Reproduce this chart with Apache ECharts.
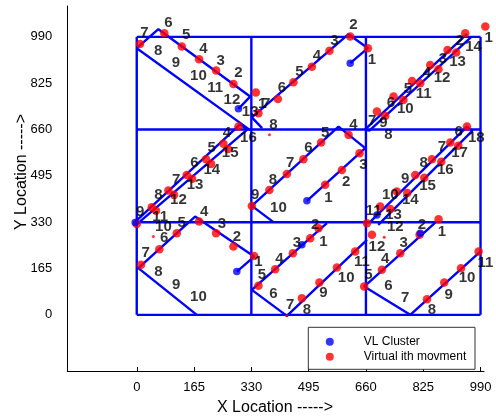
<!DOCTYPE html>
<html><head><meta charset="utf-8">
<script src="https://cdn.jsdelivr.net/npm/echarts@6/dist/echarts.min.js"></script>
<style>html,body{margin:0;padding:0;background:#fff}#c{width:496px;height:419px}</style>
</head><body><div id="c"></div>
<script>
// ---- axis ticks ----
const tickValues = [0, 165, 330, 495, 660, 825, 990];
const cellEdges = [0, 330, 660, 990];

// ---- cell: top-left ----
const tlPath = [[292.8,733.6],[326.5,777.4],[62.3,1017.4],[0,949.7],[326.5,658]];
const tlDots = [[343,791.6],[278.4,822.6],[228.5,870],[179.5,910.5],[129.7,955.4],[79.5,1003],[9.5,965]];
const tlLabels = [[361,751,'1'],[293,863,'2'],[242,904.5,'3'],[192,946,'4'],[142,997,'5'],[91,1039,'6'],[21.9,1003,'7'],[62,941,'8'],[113,898,'9'],[177.5,851,'10'],[225.7,807,'11'],[274,765.6,'12'],[326.5,724,'13']];
const tlCluster = [292.8,733.6];

// ---- cell: top-centre ----
const tcPath = [[614.7,896.3],[665.7,949.7],[609.9,999.6],[331.4,703.3],[361.1,664.8]];
const tcDots = [[665.7,949.7],[614.7,991],[555,941],[504.3,884],[451.3,828.6],[406.4,769],[350.5,718]];
const tcLabels = [[677.3,908,'1'],[624.3,1032.7,'2'],[569.5,976.8,'3'],[518.8,922.3,'4'],[468.6,866.4,'5'],[417.9,807.3,'6'],[372.6,753,'7'],[393.7,676.6,'8']];
const tcCluster = [614.7,896.3];

// ---- cell: top-right ----
const trPath = [[951,1000.6],[657,660],[670,656],[962,988]];
const trDots = [[1003.8,1026.6],[946,1003],[895,943.7],[845,890],[792.6,833],[739.5,777.4],[691.7,724],[920,934],[869,875],[816.5,825],[768,765.6],[715.6,708.6]];
const trLabels = [[1013.3,985.3,'1'],[929.7,976.8,'2'],[882,910.5,'3'],[835.8,862.8,'4'],[781,803.7,'5'],[732,756,'6'],[678,690.8,'7'],[725,641,'8'],[710.7,682.6,'9'],[773.2,732.5,'10'],[826,787,'11'],[879,843,'12'],[924,902,'13'],[970,955.4,'14']];

// ---- cell: middle-left ----
const mlPath = [[-4.6,331],[297.7,678],[318,660],[3,326]];
const mlDots = [[292.8,670.5],[249.6,609],[199.7,554.4],[144,498.5],[91,442.6],[43.2,383.5],[0,324],[263,591],[214,537.7],[159.4,484.3],[107.5,427.3],[55.6,370.4]];
const mlLabels = [[259.4,647,'4'],[216,593.6,'5'],[166,540,'6'],[113.3,480.7,'7'],[62.3,427.3,'8'],[9.5,367.8,'9'],[76.7,312.3,'10'],[67.2,350,'11'],[119.9,409.5,'12'],[168,462.9,'13'],[216,516.3,'14'],[268.9,575.8,'15'],[321.6,629,'16']];
const mlCluster = [-4.6,329];

// ---- cell: middle-centre ----
const mcPath = [[490,406],[658,593.6],[581,670.6],[331.4,388],[392.8,331]];
const mcDots = [[542.7,463],[590.8,516],[641.6,575.8],[610,641],[531,613.6],[480,554.4],[432.3,502],[382,445],[331.4,388]];
const mcLabels = [[552.2,415.6,'1'],[603.2,474.7,'2'],[653,534,'3'],[624.3,676.6,'4'],[542.7,647,'5'],[494.6,593.6,'6'],[441.8,540.2,'7'],[392,480.7,'8'],[341,427.3,'9'],[408,380,'10']];
const mcCluster = [490,406];

// ---- cell: middle-right ----
const mrPath = [[672.4,331],[951,670.5],[966.3,655],[695.4,320.5]];
const mrDots = [[951,670.5],[903,613.6],[850,554.4],[802,498.5],[749,439],[701,385.6],[926,602],[877,545],[828,488],[779,434],[730,377],[663,326.5]];
const mrLabels = [[926.9,652.7,'6'],[879,599.3,'7'],[826,542.3,'8'],[773.2,483.2,'9'],[730,427.3,'10'],[681.9,371.4,'11'],[744.4,314.4,'12'],[739.5,356,'13'],[787.7,409.5,'14'],[837.5,459.4,'15'],[888.5,516.3,'16'],[929.7,575.8,'17'],[977.9,629.2,'18']];
const mrCluster = [691.7,356];

// ---- cell: bottom-left ----
const blPath = [[288.2,154.2],[338,207.6],[168,350],[4.6,166.3],[173,0]];
const blDots = [[338,210],[278.4,243.2],[228.5,291],[179.5,332.2],[115.3,291],[65.1,234],[12.4,178]];
const blLabels = [[350.5,189.8,'1'],[288.2,278.8,'2'],[245,324,'3'],[194,367.8,'4'],[129.7,326.5,'5'],[78.7,273,'6'],[26,219.7,'7'],[62.3,154.2,'8'],[113.3,106.8,'9'],[177.5,65.2,'10']];
const blCluster = [288.2,154.2];

// ---- cell: bottom-centre ----
const bcPath = [[547.6,326.5],[331.4,89],[432.3,-3.6],[663,267]];
const bcDots = [[523.4,308.7],[499.5,273],[449.6,219.7],[398.6,162.7],[350.5,103.3],[475.5,59.5],[526,115],[576.4,168.4],[629,225.4]];
const bcLabels = [[537.8,261,'1'],[513.9,320.5,'2'],[461,257.5,'3'],[411,198.3,'4'],[360.3,142.4,'5'],[393.7,74.8,'6'],[441.8,35.6,'7'],[490,17.8,'8'],[537.8,77.3,'9'],[603.2,130.7,'10'],[648.5,189.8,'11']];
const bcCluster = [475.5,249.3];

// ---- cell: bottom-right ----
const brPath = [[859.7,328.7],[655,100.8],[787.6,0],[989.4,225.4]];
const brDots = [[869.2,340.8],[814.5,284.9],[758.8,219.7],[706.1,160.2],[655,100.8],[835.8,55.9],[885.6,115],[933.8,166.3],[984.5,225.4],[677.3,284.9]];
const brLabels = [[879,296.6,'1'],[821.4,320.5,'2'],[768.4,255.3,'3'],[715.6,198.3,'4'],[667.5,142.4,'5'],[725.1,103.3,'6'],[773.2,59.5,'7'],[850.2,17.8,'8'],[898,71.2,'9'],[951,130.7,'10'],[1003.8,184.1,'11'],[691.7,243.2,'12']];
const brCluster = [816.5,291];

const smallDots = [[382.2,641],[47.8,278.8],[712.7,276.7],[432.3,-3.6]];

const paths = [tlPath, tcPath, trPath, mlPath, mcPath, mrPath, blPath, bcPath, brPath];
const allDots = [].concat(tlDots, tcDots, trDots, mlDots, mcDots, mrDots, blDots, bcDots, brDots);
const allLabels = [].concat(tlLabels, tcLabels, trLabels, mlLabels, mcLabels, mrLabels, blLabels, bcLabels, brLabels);
const clusters = [tlCluster, tcCluster, mlCluster, mcCluster, mrCluster, blCluster, bcCluster, brCluster];

const NARROW = "'Liberation Sans Narrow','Arial Narrow','Liberation Sans',Arial,sans-serif";
const SANS = "'Liberation Sans',Arial,sans-serif";
const BLUE = '#0000ff', RED = '#ff0000';

const chart = echarts.init(document.getElementById('c'), null, {renderer: 'canvas'});
const series = [];
const e0 = cellEdges[0], e1 = cellEdges[cellEdges.length - 1];
cellEdges.forEach(v => {
  series.push({type:'line', data:[[v,e0],[v,e1]], symbol:'none', silent:true, lineStyle:{color:BLUE, width:2.4}, z:2});
  series.push({type:'line', data:[[e0,v],[e1,v]], symbol:'none', silent:true, lineStyle:{color:BLUE, width:2.4}, z:2});
});
paths.forEach(p => series.push({type:'line', data:p, symbol:'none', silent:true, clip:false, lineStyle:{color:BLUE, width:2.4}, z:2}));
series.push({name:'Virtual ith movment', type:'scatter', data:allDots, symbol:'circle', symbolSize:8.5, clip:false, itemStyle:{color:RED}, z:3});
series.push({type:'scatter', data:smallDots, symbolSize:3, clip:false, itemStyle:{color:RED}, z:3});
series.push({name:'VL Cluster', type:'scatter', data:clusters, symbol:'circle', symbolSize:7.5, clip:false, itemStyle:{color:BLUE}, z:4});
series.push({type:'scatter', data:allLabels, symbolSize:1, clip:false, itemStyle:{color:'rgba(0,0,0,0)'}, z:5,
  label:{show:true, position:'inside', formatter:p => p.value[2], color:'#000', fontSize:15, fontWeight:'bold', fontFamily:NARROW}});

chart.setOption({
  animation:false,
  backgroundColor:'#fff',
  grid:{left:67.3, right:12, top:6, bottom:48},
  xAxis:{type:'value', min:-200, max:1000,
    axisLine:{show:true, onZero:false, lineStyle:{color:'#000', width:1}},
    axisTick:{show:true, inside:true, length:4, customValues:tickValues, lineStyle:{color:'#000'}},
    axisLabel:{customValues:tickValues, margin:10, color:'#000', fontSize:13, fontFamily:NARROW},
    splitLine:{show:false}},
  yAxis:{type:'value', min:-200, max:1100,
    axisLine:{show:true, onZero:false, lineStyle:{color:'#000', width:1}},
    axisTick:{show:false, customValues:tickValues},
    axisLabel:{customValues:tickValues, margin:15, color:'#000', fontSize:13, fontFamily:NARROW},
    splitLine:{show:false}},
  legend:[
    {data:['VL Cluster'], orient:'vertical', left:325.8, top:335.7, padding:0, itemWidth:58, itemHeight:8, icon:'circle', textStyle:{fontSize:12, fontFamily:SANS, color:'#000'}},
    {data:['Virtual ith movment'], orient:'vertical', left:325.8, top:350.7, padding:0, itemWidth:58, itemHeight:8, icon:'circle', textStyle:{fontSize:12, fontFamily:SANS, color:'#000'}}
  ],
  graphic:{elements:[
    {type:'rect', z:3, shape:{x:308.3, y:327.3, width:166.7, height:42}, style:{fill:'#fff', stroke:'#333', lineWidth:1}},
    {type:'text', z:3, x:275, y:408, style:{text:'X Location ----->', font:"16px 'Liberation Sans',Arial,sans-serif", fill:'#000', align:'center', verticalAlign:'middle'}},
    {type:'text', z:3, x:22, y:172, rotation:Math.PI/2, style:{text:'Y Location ----->', font:"16px 'Liberation Sans',Arial,sans-serif", fill:'#000', align:'center', verticalAlign:'middle'}}
  ]},
  series: series
});
</script></body></html>
